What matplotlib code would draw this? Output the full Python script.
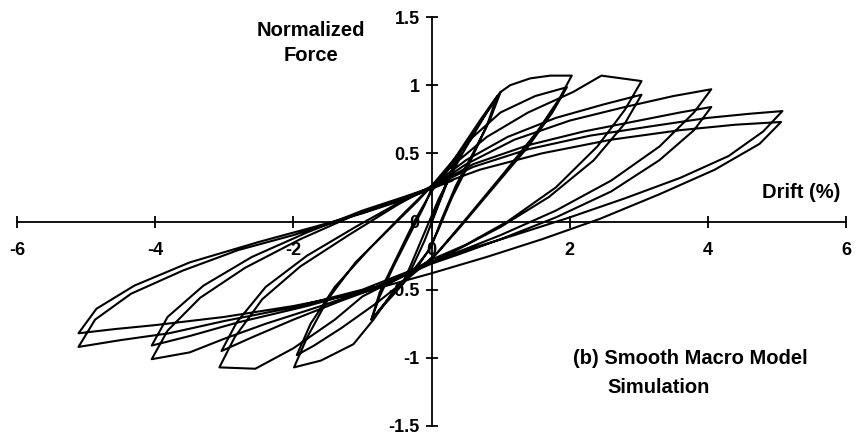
import matplotlib
matplotlib.use("Agg")
import matplotlib.pyplot as plt
import numpy as np

plt.rcParams['font.family'] = ['Liberation Sans', 'DejaVu Sans']
plt.rcParams['axes.unicode_minus'] = False

# ---- data (drift %, normalized force), in loading order ----
drift_small = [0, 0.15, 0.3, 0.42, 0.3, 0.1, -0.1, -0.3, -0.42, -0.3, -0.1, 0.1, 0.3, 0.45]
force_small = [0, 0.2, 0.38, 0.5, 0.38, 0.12, -0.14, -0.36, -0.46, -0.32, -0.08, 0.16, 0.36, 0.5]

drift_c1 = [0.6, 0.8, 1.0, 0.85, 0.6, 0.35, 0.15, 0.0, -0.2, -0.45, -0.7, -0.87,
            -0.75, -0.55, -0.3, -0.1, 0.0, 0.2, 0.45, 0.7, 0.95,
            0.8, 0.55, 0.3, 0.1, -0.05, -0.3, -0.55, -0.87]
force_c1 = [0.63, 0.8, 0.95, 0.75, 0.5, 0.26, 0.02, -0.18, -0.33, -0.48, -0.62, -0.72,
            -0.55, -0.33, -0.08, 0.12, 0.24, 0.36, 0.55, 0.74, 0.92,
            0.7, 0.43, 0.18, -0.06, -0.22, -0.38, -0.52, -0.72]

drift_c2 = [-0.75, -0.5, -0.25, 0.0, 0.3, 0.56, 0.8, 1.0, 1.14, 1.43, 1.72, 2.03,
            1.85, 1.53, 1.04, 0.5, 0.1, -0.16, -0.35, -0.55, -0.84, -1.13, -1.6, -1.99,
            -1.8, -1.5, -1.1, -0.6, -0.2, 0.0, 0.3, 0.6, 1.0, 1.5, 1.96,
            1.75, 1.4, 0.9, 0.4, 0.05, -0.3, -0.8, -1.3, -1.7, -1.95]
force_c2 = [-0.52, -0.26, 0.0, 0.22, 0.42, 0.62, 0.8, 0.95, 1.0, 1.05, 1.07, 1.07,
            0.9, 0.66, 0.35, 0.02, -0.22, -0.34, -0.4, -0.51, -0.72, -0.9, -1.02, -1.07,
            -0.85, -0.57, -0.3, -0.05, 0.15, 0.26, 0.44, 0.62, 0.8, 0.92, 0.985,
            0.8, 0.55, 0.25, -0.05, -0.25, -0.4, -0.6, -0.78, -0.91, -0.98]

drift_c3 = [-1.75, -1.4, -0.9, -0.4, 0.0, 0.35, 0.8, 1.4, 2.05, 2.46, 3.04,
            2.8, 2.4, 1.8, 1.1, 0.5, 0.0, -0.5, -1.0, -1.4, -2.0, -2.55, -3.07,
            -2.85, -2.45, -1.9, -1.2, -0.5, 0.0, 0.5, 1.1, 1.8, 2.5, 3.04,
            2.8, 2.35, 1.7, 1.0, 0.4, 0.0, -0.6, -1.3, -2.0, -2.6, -3.04]
force_c3 = [-0.75, -0.48, -0.2, 0.06, 0.26, 0.43, 0.62, 0.8, 0.95, 1.07, 1.03,
            0.82, 0.55, 0.25, 0.0, -0.17, -0.28, -0.42, -0.55, -0.72, -0.93, -1.08, -1.07,
            -0.85, -0.57, -0.33, -0.1, 0.12, 0.26, 0.45, 0.62, 0.76, 0.86, 0.93,
            0.72, 0.45, 0.18, -0.04, -0.2, -0.3, -0.45, -0.58, -0.72, -0.85, -0.95]

drift_c4 = [-2.82, -2.4, -1.8, -1.1, -0.5, 0.0, 0.5, 1.2, 2.0, 2.8, 3.5, 4.05,
            3.8, 3.3, 2.6, 1.8, 1.0, 0.4, 0.0, -0.8, -1.6, -2.4, -3.0, -3.5, -4.05,
            -3.82, -3.35, -2.7, -1.9, -1.1, -0.4, 0.0, 0.6, 1.4, 2.2, 3.0, 3.6, 4.05,
            3.8, 3.3, 2.6, 1.8, 1.0, 0.4, 0.0, -0.8, -1.8, -2.8, -3.5, -4.05]
force_c4 = [-0.74, -0.48, -0.25, -0.04, 0.13, 0.25, 0.42, 0.6, 0.74, 0.84, 0.92, 0.97,
            0.8, 0.55, 0.3, 0.08, -0.1, -0.22, -0.3, -0.48, -0.62, -0.75, -0.86, -0.96, -1.01,
            -0.8, -0.56, -0.34, -0.13, 0.05, 0.17, 0.25, 0.42, 0.56, 0.66, 0.74, 0.8, 0.84,
            0.67, 0.45, 0.22, 0.03, -0.13, -0.24, -0.31, -0.48, -0.62, -0.74, -0.84, -0.91]

drift_c5 = [-3.82, -3.3, -2.6, -1.8, -1.0, -0.4, 0.0, 0.6, 1.4, 2.3, 3.2, 4.0, 4.6, 5.08,
            4.8, 4.3, 3.6, 2.8, 2.0, 1.2, 0.5, 0.0, -1.0, -2.0, -3.0, -3.8, -4.5, -5.11,
            -4.87, -4.35, -3.6, -2.8, -2.0, -1.2, -0.5, 0.0, 0.7, 1.6, 2.6, 3.6, 4.4, 5.06,
            4.75, 4.1, 3.3, 2.44, 1.6, 0.8, 0.0, -1.0, -2.0, -3.0, -4.0, -4.6, -5.11,
            -4.85, -4.3, -3.5, -2.5, -1.7, -1.0, -0.4, 0.0, 0.3]
force_c5 = [-0.7, -0.47, -0.26, -0.08, 0.08, 0.18, 0.25, 0.4, 0.53, 0.63, 0.7, 0.76, 0.79, 0.81,
            0.66, 0.48, 0.32, 0.17, 0.03, -0.1, -0.21, -0.3, -0.5, -0.63, -0.73, -0.82, -0.87, -0.92,
            -0.72, -0.53, -0.36, -0.21, -0.1, 0.03, 0.15, 0.25, 0.38, 0.5, 0.6, 0.67, 0.71, 0.73,
            0.57, 0.38, 0.2, 0.02, -0.13, -0.26, -0.38, -0.52, -0.62, -0.7, -0.76, -0.79, -0.82,
            -0.64, -0.47, -0.3, -0.15, -0.04, 0.06, 0.16, 0.24, 0.3]

x_ticks = [-6, -4, -2, 0, 2, 4, 6]
y_ticks = [-1.5, -1, -0.5, 0, 0.5, 1, 1.5]
x_ticklabels = ['-6', '-4', '-2', '0', '2', '4', '6']
y_ticklabels = ['-1.5', '-1', '-0.5', '0', '0.5', '1', '1.5']

drift = drift_small + drift_c1 + drift_c2 + drift_c3 + drift_c4 + drift_c5
force = force_small + force_c1 + force_c2 + force_c3 + force_c4 + force_c5

# ---- figure ----
W, H = 859, 443
fig = plt.figure(figsize=(W / 100, H / 100), dpi=100)
ax = fig.add_axes([17 / W, 17 / H, 829 / W, 409 / H])

ax.plot(drift, force, color='black', lw=1.5, solid_joinstyle='round')

ax.set_xlim(-6, 6)
ax.set_ylim(-1.5, 1.5)
ax.spines['left'].set_position(('data', 0))
ax.spines['bottom'].set_position(('data', 0))
ax.spines['top'].set_visible(False)
ax.spines['right'].set_visible(False)
for s in ('left', 'bottom'):
    ax.spines[s].set_linewidth(1.3)
ax.set_xticks(x_ticks)
ax.set_xticklabels(x_ticklabels)
ax.set_yticks(y_ticks)
ax.set_yticklabels(y_ticklabels)
ax.tick_params(axis='x', direction='inout', length=9, width=1.3, pad=10, labelsize=13)
ax.tick_params(axis='y', direction='inout', length=9, width=1.3, pad=4, labelsize=13)
for lab in ax.get_xticklabels() + ax.get_yticklabels():
    lab.set_fontweight('bold')

ax.text(-1.75, 1.31, 'Normalized\nForce', ha='center', va='center',
        fontsize=14.5, fontweight='bold', linespacing=1.35)
ax.text(5.35, 0.21, 'Drift (%)', ha='center', va='center', fontsize=14.5, fontweight='bold')
ax.text(2.05, -1.005, '(b) Smooth Macro Model', ha='left', va='center',
        fontsize=14.5, fontweight='bold')
ax.text(2.54, -1.22, 'Simulation', ha='left', va='center', fontsize=14.5, fontweight='bold')

fig.savefig('out.png', dpi=100, facecolor='white')
